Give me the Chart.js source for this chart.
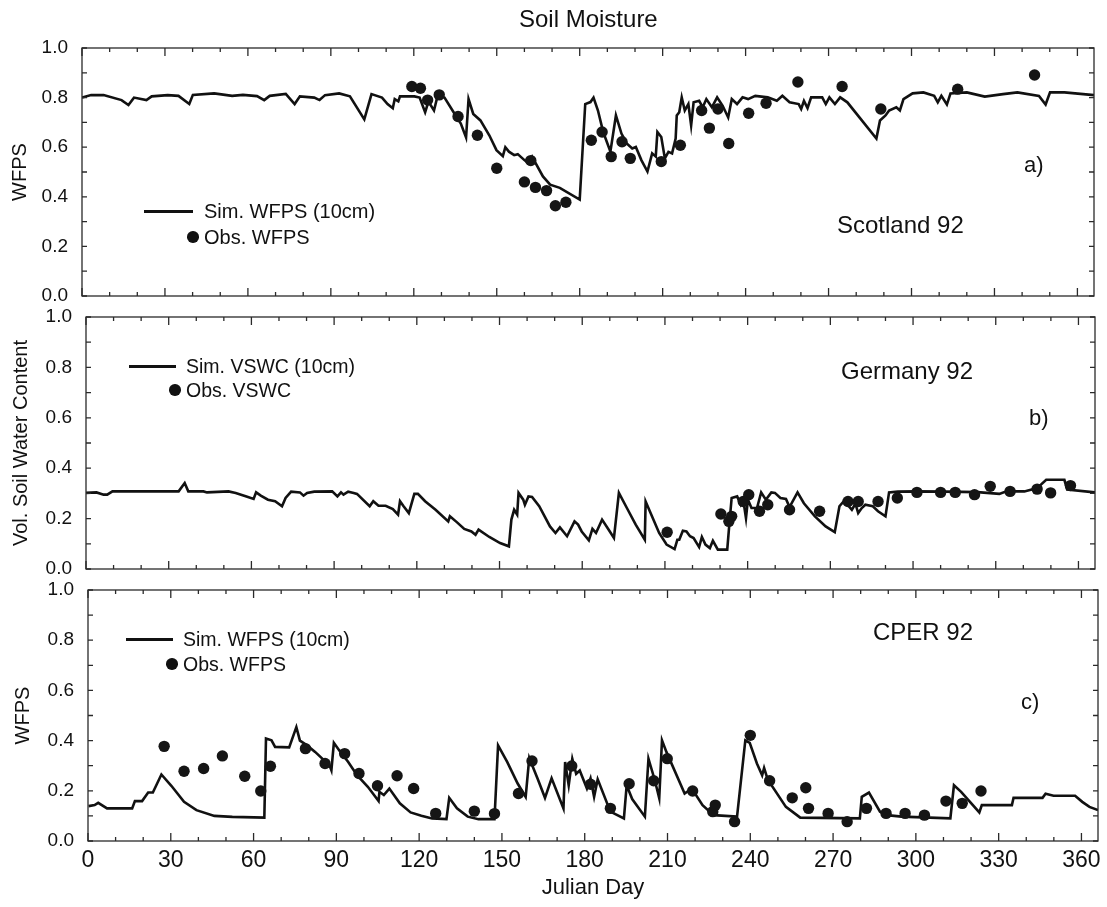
<!DOCTYPE html>
<html>
<head>
<meta charset="utf-8">
<script src="https://cdn.jsdelivr.net/npm/chart.js@4.4.1/dist/chart.umd.min.js"></script>
<style>
  html, body { margin:0; padding:0; background:#fff; }
  #wrap { position:relative; width:1107px; height:907px; overflow:hidden; background:#fff;
          font-family:"Liberation Sans", Arial, Helvetica, sans-serif; color:#111; }
  canvas { position:absolute; left:0; top:0; }
  .t { position:absolute; white-space:nowrap; line-height:30px; height:30px; }
  .ln { position:absolute; height:2.6px; background:#111; }
  .dot { position:absolute; width:11.5px; height:11.5px; border-radius:50%; background:#111; }
</style>
</head>
<body>
<div id="wrap">
  <canvas id="ca" width="1107" height="907"></canvas>
  <canvas id="cb" width="1107" height="907"></canvas>
  <canvas id="cc" width="1107" height="907"></canvas>

  <div class="t" style="left:519px; top:4px; font-size:24px;">Soil Moisture</div>

  <!-- panel a annotations -->
  <div class="ln" style="left:144px; top:210px; width:49px;"></div>
  <div class="t" style="left:204px; top:196px; font-size:20px;">Sim. WFPS (10cm)</div>
  <div class="dot" style="left:187px; top:231px;"></div>
  <div class="t" style="left:204px; top:222px; font-size:20px;">Obs. WFPS</div>
  <div class="t" style="left:837px; top:210px; font-size:24px;">Scotland 92</div>
  <div class="t" style="left:1024px; top:150px; font-size:22px;">a)</div>

  <!-- panel b annotations -->
  <div class="ln" style="left:129px; top:365px; width:47px;"></div>
  <div class="t" style="left:186px; top:351px; font-size:19.5px;">Sim. VSWC (10cm)</div>
  <div class="dot" style="left:169px; top:384px;"></div>
  <div class="t" style="left:186px; top:375px; font-size:19.5px;">Obs. VSWC</div>
  <div class="t" style="left:841px; top:356px; font-size:24px;">Germany 92</div>
  <div class="t" style="left:1029px; top:403px; font-size:22px;">b)</div>

  <!-- panel c annotations -->
  <div class="ln" style="left:126px; top:638px; width:47px;"></div>
  <div class="t" style="left:183px; top:624px; font-size:19.5px;">Sim. WFPS (10cm)</div>
  <div class="dot" style="left:166px; top:658px;"></div>
  <div class="t" style="left:183px; top:649px; font-size:19.5px;">Obs. WFPS</div>
  <div class="t" style="left:873px; top:617px; font-size:24px;">CPER 92</div>
  <div class="t" style="left:1021px; top:687px; font-size:22px;">c)</div>
</div>

<script>
// ---------------- data ----------------
const xMajorTicks = [0, 30, 60, 90, 120, 150, 180, 210, 240, 270, 300, 330, 360];
const xMinorTicks = [10, 20, 40, 50, 70, 80, 100, 110, 130, 140, 160, 170, 190, 200, 220, 230, 250, 260, 280, 290, 310, 320, 340, 350];
const yTicks = [0.0, 0.2, 0.4, 0.6, 0.8, 1.0];
const yMinorTicks = [0.1, 0.3, 0.5, 0.7, 0.9];

// a) Scotland 92 - simulated WFPS (10cm)
const scotSimDay = [0, 3.3, 7.8, 14.3, 16.8, 18.8, 23.3, 25.2, 31, 34.9, 38.8, 40.1, 47.8, 54.3, 58.2, 63.3, 65.9, 67.9, 73.7, 76.9, 78.8, 84, 85.9, 87.9, 93, 96.9, 102.1, 104.7, 108.5, 110.5, 112.4, 113.1, 114.4, 115, 120.2, 122.1, 124.1, 125.3, 127.3, 128.6, 131.1, 134.4, 137, 138.9, 139.8, 141.5, 144.1, 147.3, 149.9, 152.2, 153.1, 154.4, 156.3, 157.6, 160, 161.5, 162.8, 164.1, 166.7, 169.3, 172.8, 180, 182, 183.9, 185, 186.6, 188.5, 191.1, 193.1, 195.1, 197, 199, 200.3, 202.3, 204.5, 206.2, 207.5, 208.1, 209.5, 210.8, 212.1, 213.4, 214.7, 215.1, 216, 216.9, 218, 219.3, 220.3, 221.2, 223.2, 224.5, 225.8, 227.8, 229.7, 231.7, 233.7, 235, 236.9, 238.9, 240.9, 243.5, 248, 251.3, 253.3, 255.9, 259.2, 260.1, 261.1, 262.4, 263.7, 267.7, 269, 270.3, 272.3, 274.2, 276.8, 287.3, 288.6, 290.6, 291.9, 294.5, 295.8, 297.1, 300.4, 304.3, 308.2, 309.5, 310.8, 312.8, 314.1, 320, 326.5, 333.1, 338.3, 346.1, 348.5, 350.1, 355.3, 366];
const scotSimVal = [0.80, 0.81, 0.81, 0.79, 0.77, 0.80, 0.79, 0.805, 0.81, 0.807, 0.774, 0.811, 0.817, 0.807, 0.811, 0.806, 0.79, 0.807, 0.815, 0.774, 0.805, 0.80, 0.79, 0.81, 0.817, 0.805, 0.712, 0.814, 0.80, 0.774, 0.757, 0.794, 0.785, 0.805, 0.805, 0.80, 0.741, 0.784, 0.748, 0.807, 0.80, 0.741, 0.695, 0.639, 0.794, 0.734, 0.708, 0.648, 0.588, 0.564, 0.60, 0.582, 0.568, 0.572, 0.548, 0.535, 0.562, 0.535, 0.482, 0.449, 0.436, 0.389, 0.774, 0.782, 0.80, 0.748, 0.661, 0.582, 0.728, 0.655, 0.615, 0.595, 0.601, 0.548, 0.502, 0.575, 0.562, 0.661, 0.641, 0.555, 0.581, 0.575, 0.635, 0.728, 0.741, 0.801, 0.748, 0.774, 0.688, 0.781, 0.787, 0.761, 0.794, 0.761, 0.801, 0.767, 0.72, 0.794, 0.774, 0.801, 0.794, 0.807, 0.801, 0.787, 0.807, 0.781, 0.774, 0.754, 0.787, 0.758, 0.801, 0.801, 0.774, 0.801, 0.774, 0.801, 0.781, 0.635, 0.708, 0.728, 0.748, 0.761, 0.748, 0.794, 0.817, 0.821, 0.807, 0.781, 0.807, 0.772, 0.817, 0.821, 0.804, 0.814, 0.821, 0.807, 0.772, 0.821, 0.821, 0.81];
// a) observed WFPS
const scotObsDay = [119.3, 122.4, 125, 129.2, 136, 143, 150, 160, 162.3, 164, 168, 171.2, 175, 184.2, 188.1, 191.4, 195.3, 198.3, 209.5, 216.4, 224.1, 226.9, 230, 233.9, 241.1, 247.4, 258.9, 274.9, 288.9, 316.7, 344.5];
const scotObsVal = [0.845, 0.838, 0.79, 0.811, 0.724, 0.648, 0.515, 0.46, 0.546, 0.438, 0.425, 0.364, 0.378, 0.628, 0.661, 0.562, 0.622, 0.555, 0.542, 0.608, 0.748, 0.677, 0.754, 0.615, 0.737, 0.777, 0.863, 0.845, 0.754, 0.834, 0.891];

// b) Germany 92 - simulated VSWC (10cm)
const gerSimDay = [0, 3.8, 6.4, 7.7, 9.6, 33.6, 35.8, 37.1, 42.6, 43.9, 51.7, 54.3, 58.2, 60.8, 61.7, 63.4, 66, 68.6, 71.1, 72.4, 74.4, 77.6, 78.9, 80.2, 82.8, 89.3, 91.2, 92.5, 93.4, 95.1, 97.1, 98.3, 102.9, 104.2, 106.1, 108.7, 111.3, 113.2, 113.9, 115.2, 117.1, 119.1, 120.4, 123, 126.8, 131.4, 132, 134.6, 137.2, 139.8, 141.3, 142.4, 146.3, 150.2, 153.4, 154.3, 155.3, 156.4, 156.9, 158.6, 159.2, 160.5, 161.8, 164.4, 168.3, 170.3, 171.9, 174.5, 177.2, 178.5, 179.8, 182.4, 183.7, 185, 187.2, 189.6, 191.5, 193.3, 196.2, 199.4, 202.7, 203, 205.3, 207.9, 210.6, 213.5, 214.5, 215.2, 216.5, 217.8, 219.1, 220.4, 222.4, 223.4, 224.7, 226.3, 227.4, 229.2, 232.6, 233.5, 234.2, 236.2, 237.5, 238.4, 239.4, 240.1, 241.4, 243.4, 244.9, 246.6, 248.6, 249.9, 251.9, 253.9, 255.2, 258.1, 260.4, 264.4, 268.3, 271.6, 273.3, 274.9, 276.2, 277.8, 279.1, 280.1, 281.4, 282.7, 285.4, 287.3, 290, 291.3, 294.5, 301.1, 311.6, 323.4, 331.3, 333.9, 340.4, 345, 348.3, 354.9, 355.9, 366];
const gerSimVal = [0.302, 0.304, 0.295, 0.295, 0.308, 0.308, 0.341, 0.308, 0.308, 0.304, 0.308, 0.302, 0.288, 0.278, 0.304, 0.291, 0.275, 0.269, 0.249, 0.282, 0.307, 0.304, 0.291, 0.302, 0.307, 0.308, 0.288, 0.304, 0.295, 0.307, 0.302, 0.298, 0.249, 0.269, 0.251, 0.251, 0.238, 0.216, 0.269, 0.249, 0.222, 0.298, 0.298, 0.269, 0.235, 0.189, 0.209, 0.185, 0.159, 0.149, 0.136, 0.156, 0.127, 0.103, 0.09, 0.196, 0.235, 0.216, 0.302, 0.275, 0.255, 0.288, 0.286, 0.249, 0.169, 0.143, 0.165, 0.13, 0.189, 0.176, 0.149, 0.114, 0.159, 0.143, 0.196, 0.156, 0.123, 0.302, 0.242, 0.176, 0.116, 0.268, 0.209, 0.143, 0.097, 0.079, 0.116, 0.116, 0.152, 0.149, 0.13, 0.123, 0.087, 0.127, 0.097, 0.083, 0.112, 0.077, 0.077, 0.196, 0.282, 0.288, 0.255, 0.275, 0.202, 0.275, 0.242, 0.242, 0.304, 0.275, 0.304, 0.302, 0.282, 0.278, 0.246, 0.304, 0.261, 0.209, 0.169, 0.146, 0.249, 0.269, 0.255, 0.235, 0.259, 0.222, 0.242, 0.255, 0.249, 0.229, 0.209, 0.304, 0.307, 0.308, 0.307, 0.305, 0.298, 0.308, 0.308, 0.321, 0.354, 0.354, 0.315, 0.304];
// b) observed VSWC
const gerObsDay = [210.8, 230.3, 233.2, 234.2, 238.4, 240.4, 244.3, 247.3, 255.2, 266.1, 276.4, 280.1, 287.3, 294.3, 301.4, 310, 315.3, 322.3, 328, 335.2, 345, 349.9, 357.1];
const gerObsVal = [0.146, 0.218, 0.189, 0.209, 0.268, 0.295, 0.229, 0.255, 0.235, 0.229, 0.268, 0.268, 0.268, 0.282, 0.304, 0.304, 0.304, 0.295, 0.328, 0.308, 0.317, 0.302, 0.331];

// c) CPER 92 - simulated WFPS (10cm)
const cperSimDay = [0.2, 2.4, 3.7, 6.9, 16, 17, 19.6, 21.8, 23.5, 26.6, 30.2, 34.8, 39.3, 45.8, 52.3, 63.9, 64.5, 66.5, 67.8, 72.9, 75.5, 76.8, 79.4, 82.3, 84.9, 87.5, 88.2, 89.1, 91, 94.3, 97.5, 101.4, 105.3, 105.6, 107.2, 109.2, 113, 116.9, 120.8, 124.7, 129.9, 130.9, 133.7, 137.6, 141.5, 147.3, 148.6, 151.9, 155.7, 158.6, 159.9, 162.9, 165.6, 168, 172.3, 172.9, 174.2, 175.5, 176.9, 178.2, 180.8, 182.1, 183.4, 184.7, 189.3, 194.2, 195.2, 197.2, 201.8, 203.1, 205.4, 207, 208, 209.6, 216.2, 218.8, 222.7, 226.7, 235.2, 238.2, 239.8, 242.4, 244.3, 245, 246.3, 252.9, 258.1, 279.7, 280.4, 283, 287, 289.6, 294.8, 312.5, 313.8, 316.4, 323, 323.9, 334.8, 335.4, 345.9, 347, 349.9, 357.7, 360.3, 362.9, 366];
const cperSimVal = [0.139, 0.143, 0.152, 0.13, 0.13, 0.159, 0.159, 0.193, 0.193, 0.265, 0.22, 0.156, 0.123, 0.10, 0.096, 0.093, 0.408, 0.401, 0.375, 0.373, 0.454, 0.40, 0.381, 0.355, 0.328, 0.302, 0.282, 0.391, 0.362, 0.315, 0.262, 0.216, 0.159, 0.196, 0.183, 0.209, 0.15, 0.114, 0.101, 0.09, 0.087, 0.172, 0.13, 0.097, 0.087, 0.087, 0.381, 0.315, 0.229, 0.176, 0.331, 0.249, 0.172, 0.25, 0.13, 0.315, 0.222, 0.328, 0.268, 0.281, 0.209, 0.249, 0.176, 0.246, 0.117, 0.09, 0.222, 0.167, 0.097, 0.328, 0.242, 0.17, 0.401, 0.355, 0.189, 0.209, 0.143, 0.103, 0.097, 0.401, 0.391, 0.309, 0.262, 0.291, 0.245, 0.136, 0.093, 0.09, 0.176, 0.193, 0.117, 0.103, 0.097, 0.09, 0.222, 0.196, 0.114, 0.143, 0.143, 0.172, 0.172, 0.188, 0.18, 0.18, 0.156, 0.136, 0.123];
// c) observed WFPS
const cperObsDay = [27.6, 34.8, 41.9, 48.7, 56.8, 62.6, 66.1, 78.8, 85.9, 93, 98.2, 104.9, 112, 118, 126, 140, 147.3, 156, 160.9, 175.3, 182.1, 189.3, 196.1, 205, 209.9, 219.1, 226.4, 227.3, 234.3, 240, 247, 255.2, 260.1, 261.1, 268.2, 275.1, 282.1, 289.2, 296.1, 303.1, 310.9, 316.8, 323.6];
const cperObsVal = [0.377, 0.278, 0.289, 0.339, 0.258, 0.199, 0.298, 0.368, 0.309, 0.348, 0.269, 0.22, 0.26, 0.209, 0.11, 0.119, 0.109, 0.189, 0.319, 0.299, 0.226, 0.13, 0.228, 0.24, 0.328, 0.199, 0.117, 0.143, 0.077, 0.421, 0.24, 0.172, 0.212, 0.13, 0.11, 0.077, 0.13, 0.11, 0.11, 0.103, 0.159, 0.15, 0.199];

// ---------------- drawing ----------------
const FONT = '"Liberation Sans", Arial, Helvetica, sans-serif';
const INK = '#111';

const framePlugin = {
  id: 'frame',
  afterDatasetsDraw(chart) {
    const {ctx, chartArea: {left, right, top, bottom}, scales: {x, y}} = chart;
    ctx.save();
    ctx.strokeStyle = '#2a2a2a';
    ctx.lineWidth = 1.3;
    ctx.strokeRect(left, top, right - left, bottom - top);
    ctx.beginPath();
    xMajorTicks.forEach(d => {
      const px = x.getPixelForValue(d);
      ctx.moveTo(px, bottom); ctx.lineTo(px, bottom - 8);
      ctx.moveTo(px, top); ctx.lineTo(px, top + 8);
    });
    xMinorTicks.forEach(d => {
      const px = x.getPixelForValue(d);
      ctx.moveTo(px, bottom); ctx.lineTo(px, bottom - 4);
      ctx.moveTo(px, top); ctx.lineTo(px, top + 4);
    });
    yTicks.concat(yMinorTicks).forEach(v => {
      const py = y.getPixelForValue(v);
      ctx.moveTo(left, py); ctx.lineTo(left + 5, py);
      ctx.moveTo(right, py); ctx.lineTo(right - 5, py);
    });
    ctx.stroke();
    ctx.restore();
  }
};

function pts(days, vals) { return days.map((d, i) => ({x: d, y: vals[i]})); }

function panel(id, box, simD, simV, obsD, obsV, yTitle, yTitlePad, showX) {
  const xh = showX ? 907 - box.bottom : 0;
  new Chart(document.getElementById(id), {
    type: 'scatter',
    data: {
      datasets: [
        { data: pts(simD, simV), showLine: true, borderColor: INK, borderWidth: 2.6,
          pointRadius: 0, tension: 0, fill: false, order: 2 },
        { data: pts(obsD, obsV), backgroundColor: '#151515', borderColor: '#151515',
          borderWidth: 0, pointRadius: 5.7, order: 1 }
      ]
    },
    options: {
      responsive: false, animation: false, devicePixelRatio: 1,
      layout: { autoPadding: false,
        padding: { left: 0, top: box.top, right: 1107 - box.right, bottom: 907 - box.bottom - xh } },
      plugins: { legend: { display: false }, tooltip: { enabled: false }, title: { display: false } },
      scales: {
        x: {
          type: 'linear', min: 0, max: 366,
          afterFit: s => { s.height = xh; },
          afterBuildTicks: s => { s.ticks = xMajorTicks.map(v => ({value: v})); },
          grid: { display: false, drawTicks: false }, border: { display: false },
          ticks: { display: showX, padding: 6, color: INK, font: { family: FONT, size: 23 } },
          title: { display: showX, text: 'Julian Day', color: INK,
                   font: { family: FONT, size: 22 }, padding: { top: 0, bottom: 6 } }
        },
        y: {
          min: 0, max: 1,
          afterFit: s => { s.width = box.left; },
          afterBuildTicks: s => { s.ticks = yTicks.map(v => ({value: v})); },
          grid: { display: false, drawTicks: false }, border: { display: false },
          ticks: { padding: 14, color: INK, font: { family: FONT, size: 19 },
                   callback: v => Number(v).toFixed(1) },
          title: { display: true, text: yTitle, color: INK,
                   font: { family: FONT, size: 20 }, padding: { top: yTitlePad, bottom: 0 } }
        }
      }
    },
    plugins: [framePlugin]
  });
}

panel('ca', {left: 82, right: 1094, top: 48, bottom: 296},
      scotSimDay, scotSimVal, scotObsDay, scotObsVal, 'WFPS', 8.5, false);
panel('cb', {left: 86, right: 1095, top: 317, bottom: 569},
      gerSimDay, gerSimVal, gerObsDay, gerObsVal, 'Vol. Soil Water Content', 9.5, false);
panel('cc', {left: 88, right: 1098, top: 590, bottom: 841},
      cperSimDay, cperSimVal, cperObsDay, cperObsVal, 'WFPS', 11, true);
</script>
</body>
</html>
